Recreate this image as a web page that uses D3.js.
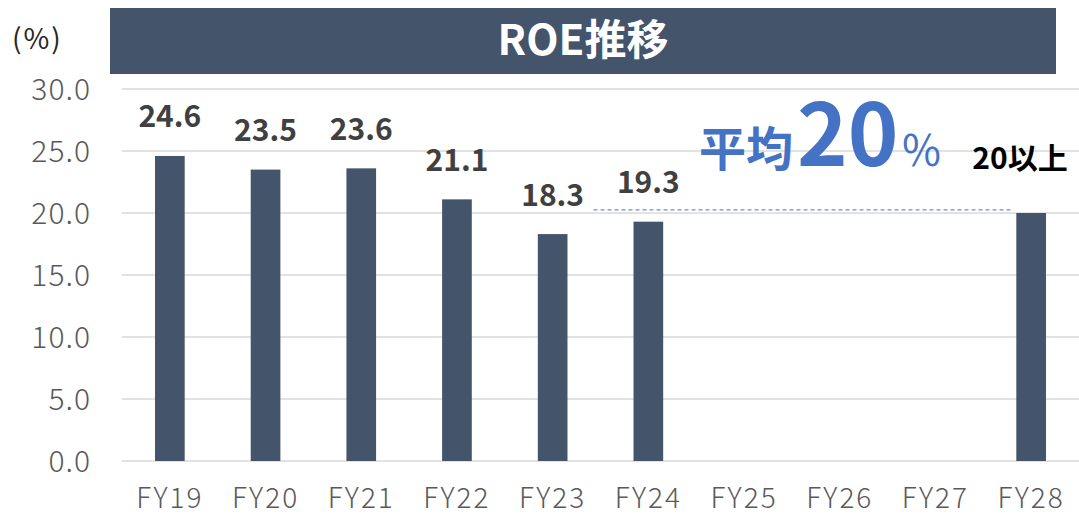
<!DOCTYPE html>
<html><head><meta charset="utf-8">
<script src="https://cdn.jsdelivr.net/npm/d3@7"></script>
<style>body{margin:0;background:#fff}svg{display:block}</style>
</head><body>
<script>
const categories = ["FY19","FY20","FY21","FY22","FY23","FY24","FY25","FY26","FY27","FY28"];
const values = [24.6, 23.5, 23.6, 21.1, 18.3, 19.3, null, null, null, 20.0];
const valueLabels = ["24.6","23.5","23.6","21.1","18.3","19.3","","","",""];
const yTicks = [0,5,10,15,20,25,30];
const avgValue = 20.25;
const avgFrom = "FY24", avgTo = "FY28";
const title = "ROE推移";
const unitLabel = "(%)";
const targetLabel = "20以上";

const W = 1079, H = 517;
const font = "'Noto Sans CJK JP','Noto Sans',sans-serif";
const svg = d3.select("body").append("svg").attr("width", W).attr("height", H);

const x = d3.scaleBand().domain(categories).range([122, 1079]).paddingInner(0.69).paddingOuter(0.345);
const y = d3.scaleLinear().domain([0, 30]).range([461, 89]);

// gridlines
svg.append("g").selectAll("line").data(yTicks).join("line")
  .attr("x1", 122).attr("x2", 1079)
  .attr("y1", d => y(d)).attr("y2", d => y(d))
  .attr("stroke", "#d9d9d9").attr("stroke-width", 1.5);

// y axis labels
const yAxis = d3.axisLeft(y).tickValues(yTicks).tickFormat(d3.format(".1f")).tickSize(0).tickPadding(0);
const ya = svg.append("g").attr("transform", "translate(91,0)").call(yAxis);
ya.select(".domain").remove();
ya.selectAll("text").attr("font-family", font).attr("font-size", 30).attr("font-weight", 300)
  .attr("letter-spacing", 1).attr("fill", "#595959").attr("dy", "0.35em");

// x axis labels
const xAxis = d3.axisBottom(x).tickSize(0).tickPadding(0);
const xa = svg.append("g").attr("transform", "translate(0,498)").call(xAxis);
xa.select(".domain").remove();
xa.selectAll("text").attr("font-family", font).attr("font-size", 28).attr("font-weight", 300)
  .attr("letter-spacing", 2).attr("fill", "#595959").attr("dy", "0.35em");

// bars
const bd = categories.map((c, i) => ({c, v: values[i], l: valueLabels[i]})).filter(d => d.v != null);
svg.append("g").selectAll("rect").data(bd).join("rect")
  .attr("x", d => x(d.c)).attr("width", x.bandwidth())
  .attr("y", d => y(d.v)).attr("height", d => y(0) - y(d.v))
  .attr("fill", "#44546A");

// value labels
svg.append("g").selectAll("text").data(bd.filter(d => d.l)).join("text")
  .attr("x", d => x(d.c) + x.bandwidth() / 2).attr("y", d => y(d.v) - 39)
  .attr("dy", "0.35em").attr("text-anchor", "middle")
  .attr("font-family", font).attr("font-weight", "bold").attr("font-size", 30).attr("fill", "#404040")
  .text(d => d.l);

// average dashed line
svg.append("line")
  .attr("x1", x(avgFrom) - 40).attr("x2", x(avgTo) - 5)
  .attr("y1", y(avgValue)).attr("y2", y(avgValue))
  .attr("stroke", "#4472C4").attr("stroke-width", 1).attr("stroke-dasharray", "4,3");

// 平均20%
const t = svg.append("text").attr("x", 699).attr("y", 166).attr("font-family", font).attr("font-weight", "bold").attr("fill", "#4472C4");
t.append("tspan").attr("font-size", 47).text("平均");
t.append("tspan").attr("font-size", 86).attr("dx", 4).text("20");
t.append("tspan").attr("font-size", 42).attr("dx", 2).attr("font-weight", "normal").text("％");

// target label
svg.append("text").attr("x", 1020).attr("y", 158).attr("dy", "0.35em")
  .attr("text-anchor", "middle").attr("font-family", font).attr("font-weight", "bold").attr("font-size", 30).attr("fill", "#000")
  .text(targetLabel);

// title
svg.append("rect").attr("x", 110).attr("y", 8).attr("width", 946).attr("height", 66).attr("fill", "#44546A");
svg.append("text").attr("x", 583).attr("y", 40).attr("dy", "0.35em").attr("text-anchor", "middle")
  .attr("font-family", font).attr("font-weight", "bold").attr("font-size", 42).attr("fill", "#fff").text(title);

// unit
svg.append("text").attr("x", 12).attr("y", 39).attr("dy", "0.35em").attr("letter-spacing", 2)
  .attr("font-family", font).attr("font-size", 28).attr("fill", "#262626").text(unitLabel);
</script>
</body></html>
